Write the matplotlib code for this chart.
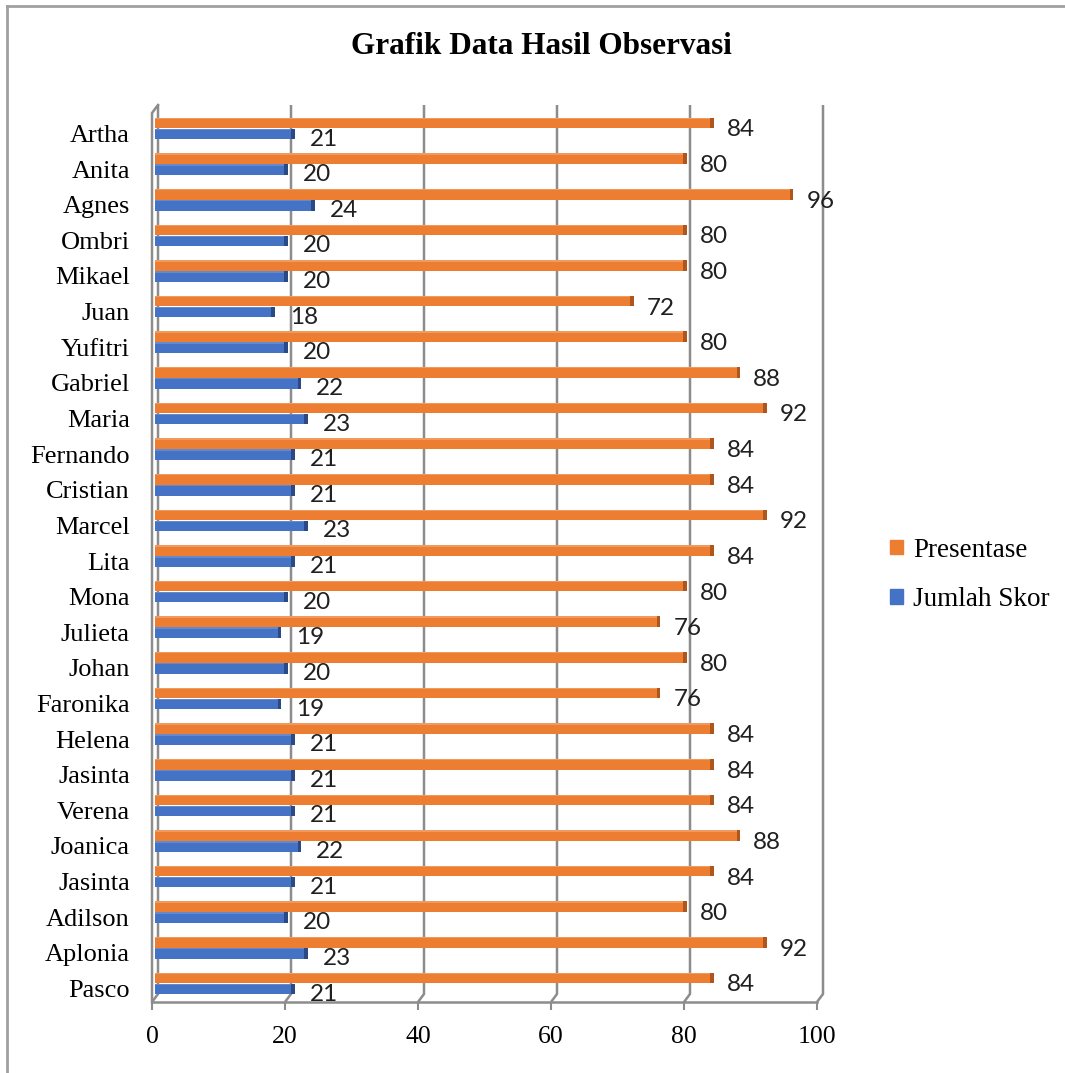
import matplotlib
matplotlib.use("Agg")
import matplotlib.pyplot as plt
import matplotlib.transforms as mtransforms
from matplotlib.patches import Patch
import numpy as np

# ---- data (bottom to top) ----
names = ["Pasco", "Aplonia", "Adilson", "Jasinta", "Joanica", "Verena", "Jasinta",
         "Helena", "Faronika", "Johan", "Julieta", "Mona", "Lita", "Marcel",
         "Cristian", "Fernando", "Maria", "Gabriel", "Yufitri", "Juan", "Mikael",
         "Ombri", "Agnes", "Anita", "Artha"]
presentase = [84, 92, 80, 84, 88, 84, 84, 84, 76, 80, 76, 80, 84, 92,
              84, 84, 92, 88, 80, 72, 80, 80, 96, 80, 84]
jumlah_skor = [21, 23, 20, 21, 22, 21, 21, 21, 19, 20, 19, 20, 21, 23,
               21, 21, 23, 22, 20, 18, 20, 20, 24, 20, 21]
xticks = [0, 20, 40, 60, 80, 100]
title = "Grafik Data Hasil Observasi"
series_names = ["Presentase", "Jumlah Skor"]

W, H = 1065, 1073
fig = plt.figure(figsize=(W / 100, H / 100), dpi=100)

def fx(px):
    return px / W

def fy(py):
    return 1 - py / H

# axes: x px 152 -> 823, y px 103 -> 1002
ax_left, ax_right, ax_top, ax_bot = 152, 823, 103, 1002
ax = fig.add_axes([fx(ax_left), fy(ax_bot), fx(ax_right) - fx(ax_left), fy(ax_top) - fy(ax_bot)])
ppu = 6.65
xmax = (ax_right - ax_left) / ppu
row = 35.625
y_bottom_c, y_top_c = 983.5, 128.5
ylo = -(ax_bot - y_bottom_c) / row
yhi = 24 + (y_top_c - ax_top) / row
ax.set_xlim(0, xmax)
ax.set_ylim(ylo, yhi)

dx = 6 / ppu
wall_bot = -(994 - y_bottom_c) / row
wall_top = 24 + (y_top_c - 105) / row
grid_col = "#8c8c8c"

for v in xticks:
    ax.plot([v + dx, v + dx, v], [wall_top, wall_bot, ylo], color=grid_col, lw=1.8,
            zorder=1, clip_on=False, solid_capstyle="butt")
# left front edge
ax.plot([0, 0, dx], [ylo, wall_top - 8 / row, wall_top], color=grid_col, lw=1.8,
        zorder=1, clip_on=False)

y = np.arange(len(names))
off = 0.155
h = 0.30
start = 0.45
orange, orange_d, orange_l = "#ED7D31", "#AE561C", "#F19A5E"
blue, blue_d, blue_l = "#4472C4", "#2A4A86", "#6688CC"
cap = 0.55

ax.barh(y + off, presentase, height=h, left=start, color=orange, zorder=3)
ax.barh(y + off + h / 2 - 0.02, presentase, height=0.04, left=start, color=orange_l, zorder=3.5)
ax.barh(y + off, [cap] * len(y), height=h, left=np.array(presentase) + start - cap,
        color=orange_d, zorder=4)
ax.barh(y - off, jumlah_skor, height=h, left=start, color=blue, zorder=3)
ax.barh(y - off + h / 2 - 0.02, jumlah_skor, height=0.04, left=start, color=blue_l, zorder=3.5)
ax.barh(y - off, [cap] * len(y), height=h, left=np.array(jumlah_skor) + start - cap,
        color=blue_d, zorder=4)

lab_font = dict(family=["Lato", "DejaVu Sans"], fontsize=17.5, color="#202020")
for yi, p, s in zip(y, presentase, jumlah_skor):
    ax.annotate(str(p), (p + start, yi + off), xytext=(13, -7), textcoords="offset pixels",
                ha="left", va="center", **lab_font)
    ax.annotate(str(s), (s + start, yi - off), xytext=(15, -5), textcoords="offset pixels",
                ha="left", va="center", **lab_font)

for sp in ["top", "right", "left"]:
    ax.spines[sp].set_visible(False)
ax.spines["bottom"].set_bounds(0, 100)
ax.spines["bottom"].set_color(grid_col)
ax.spines["bottom"].set_linewidth(1.8)
ax.set_xticks(xticks)
ax.set_xticklabels([str(v) for v in xticks], family="Liberation Serif", fontsize=18.5)
ax.tick_params(axis="x", length=6, width=1.5, color=grid_col, pad=11)
ax.set_yticks(y)
ax.set_yticklabels(names, family="Liberation Serif", fontsize=19)
ax.tick_params(axis="y", length=0, pad=16)
shift = mtransforms.ScaledTranslation(0, -5 / 100, fig.dpi_scale_trans)
for lbl in ax.get_yticklabels():
    lbl.set_transform(lbl.get_transform() + shift)
ax.patch.set_alpha(0)

fig.text(fx(541), fy(46), title, ha="center", va="center", family="Liberation Serif",
         fontsize=22.5, fontweight="bold")

handles = [Patch(color=orange), Patch(color=blue)]
fig.legend(handles, series_names, loc="center left", bbox_to_anchor=(fx(866), fy(575)),
           frameon=False, prop=dict(family="Liberation Serif", size=19.5),
           handlelength=0.45, handleheight=0.45, handletextpad=0.4, labelspacing=0.9)

# outer border (top and left)
fig.add_artist(plt.Line2D([fx(7), 1], [fy(6), fy(6)], color="#a0a0a0", lw=2))
fig.add_artist(plt.Line2D([fx(7), fx(7)], [fy(6), 0], color="#a0a0a0", lw=2))

fig.savefig("out.png", dpi=100)
